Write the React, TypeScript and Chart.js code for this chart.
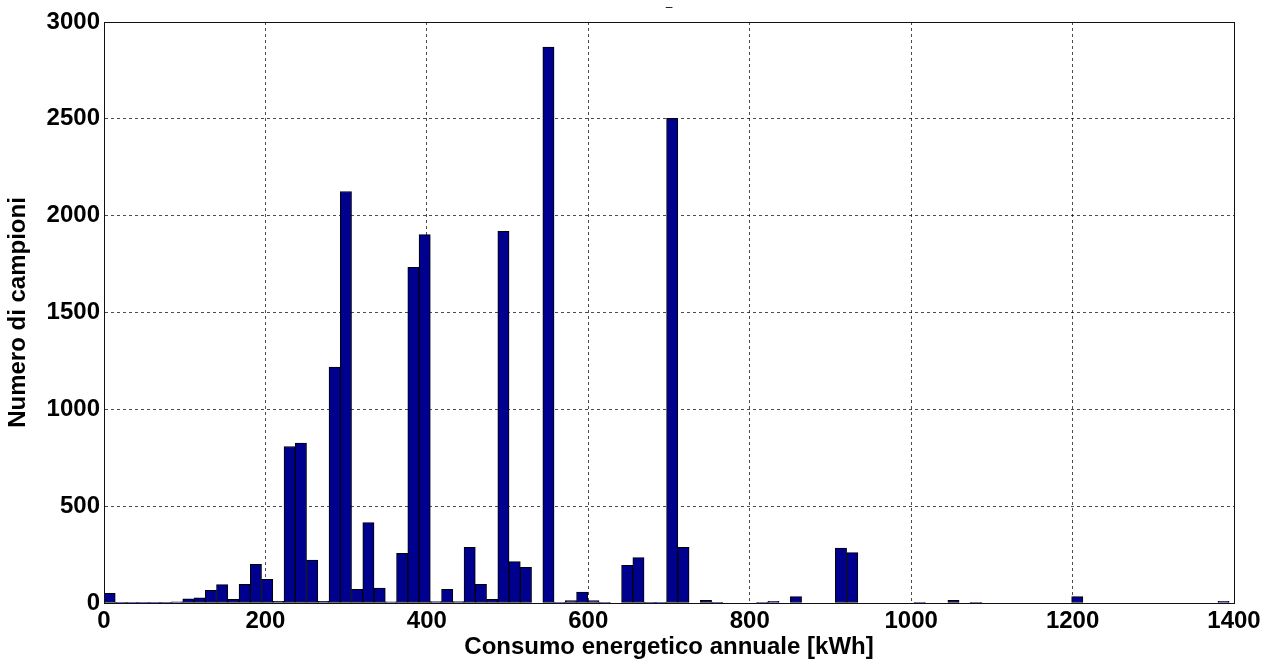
import React, { useEffect, useRef } from "react";
import { Chart, registerables } from "chart.js";

Chart.register(...registerables);

// Histogram bins: 100 equal bins starting at 0 kWh
const binStart = 0;
const binWidth = 13.94;
const binCount = 100;

// Number of samples in each bin
const counts: number[] = [
  50, 2, 2, 2, 2, 2, 6, 22, 27, 65,
  95, 19, 97, 200, 122, 8, 808, 826, 222, 8,
  1218, 2125, 70, 415, 77, 6, 257, 1733, 1902, 7,
  70, 7, 288, 97, 19, 1919, 214, 184, 0, 2871,
  3, 12, 57, 12, 3, 0, 195, 234, 2, 2,
  2503, 287, 0, 14, 4, 0, 0, 0, 3, 9,
  0, 33, 0, 0, 0, 283, 260, 0, 0, 0,
  0, 0, 3, 0, 0, 14, 0, 3, 0, 0,
  0, 0, 0, 0, 0, 0, 33, 0, 0, 0,
  0, 0, 0, 0, 0, 0, 0, 0, 0, 9,
];

const xTicks = [0, 200, 400, 600, 800, 1000, 1200, 1400];
const yTicks = [0, 500, 1000, 1500, 2000, 2500, 3000];

const chartTitle = "–";
const xTitle = "Consumo energetico annuale [kWh]";
const yTitle = "Numero di campioni";

const FONT = '"Liberation Sans", Arial, Helvetica, sans-serif';

const framePlugin = {
  id: "frame",
  afterDraw(chart: any) {
    const { ctx, chartArea: a } = chart;
    ctx.save();
    ctx.strokeStyle = "#111";
    ctx.lineWidth = 1;
    ctx.setLineDash([]);
    const l = Math.round(a.left) + 0.5;
    const t = Math.round(a.top) + 0.5;
    const r = Math.round(a.right) + 0.5;
    const b = Math.round(a.bottom) + 0.5;
    ctx.strokeRect(l, t, r - l, b - t);
    ctx.restore();
  },
};

export default function App() {
  const canvasRef = useRef<HTMLCanvasElement | null>(null);

  useEffect(() => {
    const canvas = canvasRef.current;
    if (!canvas) return;
    const data = counts.slice(0, binCount).map((c, i) => ({
      x: binStart + binWidth * (i + 0.5),
      y: c,
    }));
    const tickFont = { family: FONT, size: 24, weight: "bold" as const };
    const chart = new Chart(canvas, {
      type: "bar",
      data: {
        datasets: [
          {
            data,
            backgroundColor: "#00008F",
            borderColor: "#000000",
            borderWidth: 1,
            borderSkipped: false,
            barPercentage: 1,
            categoryPercentage: 1,
          } as any,
        ],
      },
      options: {
        animation: false,
        responsive: false,
        devicePixelRatio: 1,
        layout: { padding: { left: 0, right: 42, top: 0, bottom: 0 } },
        plugins: {
          legend: { display: false },
          tooltip: { enabled: false },
          title: {
            display: true,
            text: chartTitle,
            fullSize: false,
            color: "#000",
            font: { family: FONT, size: 12, weight: "normal" },
            padding: { top: 0, bottom: 7.6 },
          },
        },
        scales: {
          x: {
            type: "linear",
            min: 0,
            max: 1400,
            offset: false,
            afterBuildTicks: (s: any) => {
              s.ticks = xTicks.map((v) => ({ value: v }));
            },
            afterFit: (s: any) => {
              s.height = 63;
            },
            ticks: {
              color: "#000",
              font: tickFont,
              padding: 4,
              maxRotation: 0,
              autoSkip: false,
              callback: (v: any) => String(v),
            },
            grid: {
              color: "rgba(0,0,0,0.7)",
              lineWidth: 1,
              drawTicks: false,
              offset: false,
            },
            border: { display: true, color: "#111", dash: [3, 3] },
            title: {
              display: true,
              text: xTitle,
              color: "#000",
              font: tickFont,
              padding: { top: 4, bottom: 4 },
            },
          },
          y: {
            type: "linear",
            min: 0,
            max: 3000,
            afterBuildTicks: (s: any) => {
              s.ticks = yTicks.map((v) => ({ value: v }));
            },
            afterFit: (s: any) => {
              s.width = 104;
            },
            ticks: {
              color: "#000",
              font: tickFont,
              padding: 4,
              autoSkip: false,
              callback: (v: any) => String(v),
            },
            grid: {
              color: "rgba(0,0,0,0.7)",
              lineWidth: 1,
              drawTicks: false,
            },
            border: { display: true, color: "#111", dash: [3, 3] },
            title: {
              display: true,
              text: yTitle,
              color: "#000",
              font: tickFont,
              padding: { top: 4, bottom: 4 },
            },
          },
        },
      },
      plugins: [framePlugin],
    });
    return () => chart.destroy();
  }, []);

  return (
    <div
      style={{
        position: "absolute",
        left: 0,
        top: 0,
        width: 1276,
        height: 666,
        background: "#fff",
      }}
    >
      <canvas
        ref={canvasRef}
        width={1276}
        height={666}
        style={{ display: "block", width: 1276, height: 666 }}
      />
    </div>
  );
}
